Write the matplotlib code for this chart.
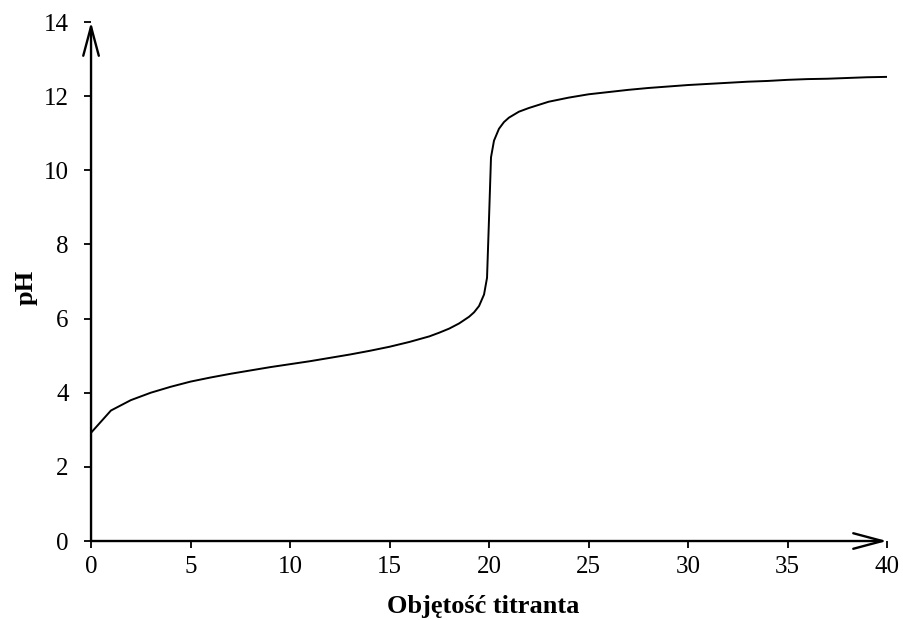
import matplotlib
matplotlib.use("Agg")
import matplotlib.pyplot as plt

# Titrant volume (x) and pH (y)
volume = [0, 1, 2, 3, 4, 5, 6, 7, 8, 9, 10, 11, 12, 13, 14, 15, 16, 17, 17.5,
          18, 18.5, 19, 19.25, 19.5, 19.75, 19.9, 20, 20.1, 20.25, 20.5, 20.75,
          21, 21.5, 22, 23, 24, 25, 26, 27, 28, 29, 30,
          31, 32, 33, 34, 35, 36, 37, 38, 39, 40]
ph = [2.92, 3.52, 3.8, 4.0, 4.16, 4.3, 4.41, 4.51, 4.6, 4.69, 4.77, 4.85, 4.94,
      5.03, 5.13, 5.24, 5.37, 5.52, 5.62, 5.73, 5.87, 6.05, 6.17, 6.34, 6.65,
      7.1, 8.7, 10.35, 10.8, 11.12, 11.3, 11.42, 11.58, 11.68, 11.85, 11.96,
      12.05, 12.11, 12.17, 12.22, 12.26, 12.3,
      12.33, 12.36, 12.39, 12.41, 12.44, 12.46, 12.47, 12.49, 12.51, 12.52]

x_ticks = [0, 5, 10, 15, 20, 25, 30, 35, 40]
y_ticks = [0, 2, 4, 6, 8, 10, 12, 14]
x_label = "Objętość titranta"
y_label = "pH"

plt.rcParams['font.family'] = ['Liberation Serif', 'DejaVu Serif']

fig = plt.figure(figsize=(9.04, 6.2), dpi=100)
ax = fig.add_axes([0.1007, 0.1274, 0.8805, 0.8371])

ax.plot(volume, ph, color='black', lw=1.4, solid_joinstyle='round')

ax.set_xlim(0, 40)
ax.set_ylim(0, 14)
ax.set_xticks(x_ticks)
ax.set_yticks(y_ticks)
ax.tick_params(axis='both', labelsize=18, width=1.3, length=5, color='black')
ax.tick_params(axis='x', pad=6)
ax.tick_params(axis='y', pad=11)

for s in ['top', 'right', 'left', 'bottom']:
    ax.spines[s].set_visible(False)

arrow_kw = dict(arrowstyle='->, head_length=1.05, head_width=0.28',
                color='black', lw=1.7, shrinkA=0, shrinkB=0,
                mutation_scale=20)
ax.annotate('', xy=(1, 0), xytext=(0, 0), xycoords='axes fraction',
            textcoords='axes fraction', arrowprops=arrow_kw, annotation_clip=False)
ax.annotate('', xy=(0, 1), xytext=(0, 0), xycoords='axes fraction',
            textcoords='axes fraction', arrowprops=arrow_kw, annotation_clip=False)

ax.set_xlabel(x_label, fontsize=19, fontweight='bold')
ax.set_ylabel(y_label, fontsize=19, fontweight='bold')
ax.xaxis.set_label_coords(0.4925, -0.127)
ax.yaxis.set_label_coords(-0.0817, 0.489)
ax.xaxis.label.set_va('center')
ax.yaxis.label.set_va('center')

fig.savefig('out.png', dpi=100)
